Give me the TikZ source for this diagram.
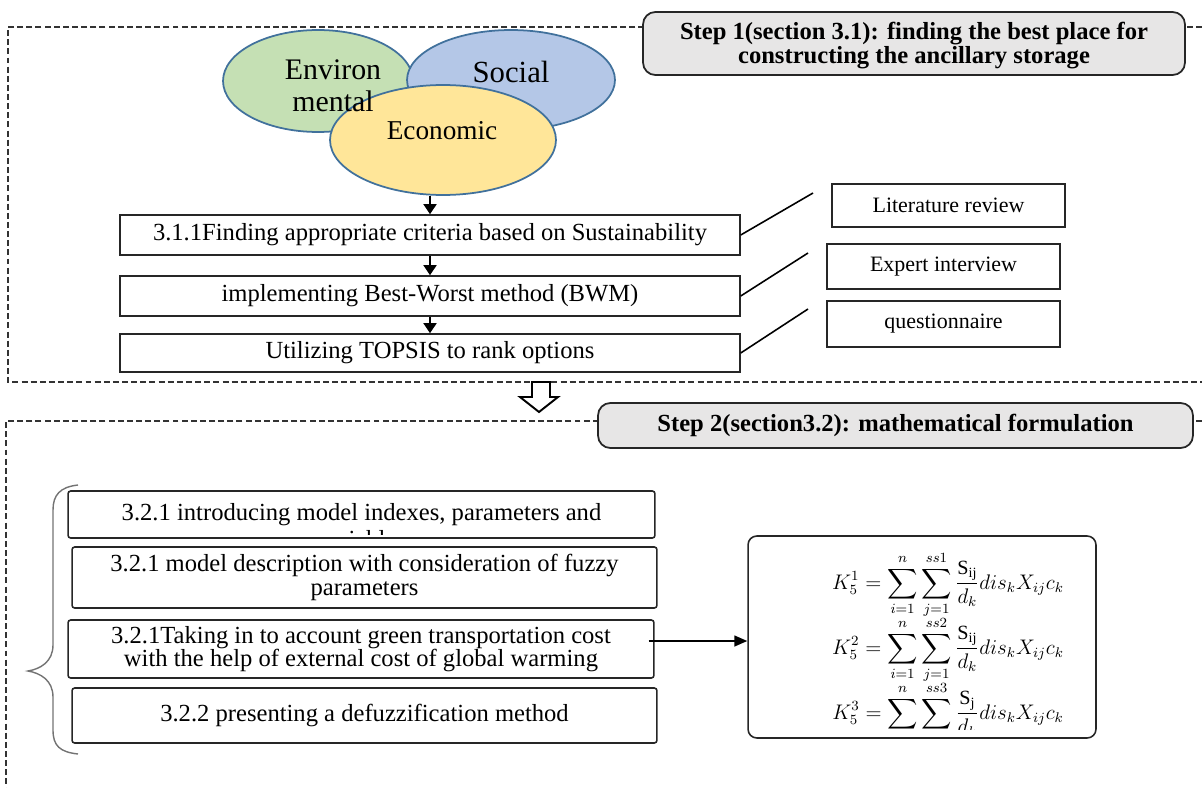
\documentclass[tikz,border=0pt]{standalone}
\usepackage{amsmath}
\usepackage{fontspec}
\setmainfont{Liberation Serif}
\usetikzlibrary{arrows.meta, shapes.geometric}
\definecolor{cgreen}{HTML}{C5E0B4}
\definecolor{cblue}{HTML}{B4C7E7}
\definecolor{cyellow}{HTML}{FFE699}
\definecolor{cedge}{HTML}{41719C}
\definecolor{cgrey}{HTML}{E7E6E6}
\tikzset{
  every picture/.style={line width=0.9pt},
  stepframe/.style={draw=black!80, line width=0.8pt, dash pattern=on 3.4pt off 1.8pt},
  stepbox/.style={draw=black!85, fill=cgrey, rounded corners=7pt, align=center, line width=1pt,
    font=\bfseries\fontsize{14}{13.5}\selectfont},
  venn/.style={ellipse, draw=cedge, fill=#1, line width=1pt},
  task/.style={draw=black!85, minimum width=12.4cm, align=center, font=\fontsize{14}{13.5}\selectfont},
  sub/.style={draw=black!85, rounded corners=1.5pt, align=center, font=\fontsize{14}{13.5}\selectfont},
  src/.style={draw=black!85, align=center, font=\fontsize{12.5}{13}\selectfont},
  arr/.style={-{Triangle[length=2mm, width=2.6mm]}, draw=black},
  formula/.style={font=\fontsize{11.5}{12}\selectfont},
}

\begin{document}
\begin{tikzpicture}[x=0.02cm, y=-0.02cm]
  \useasboundingbox (0,0) rectangle (1202,787);
  \clip (0,0) rectangle (1202,787);
  % dashed frames of the two steps
  \draw[stepframe] (1220,27) -- (8,27) -- (8,382) -- (1220,382);
  \draw[stepframe] (1220,421) -- (6,421) -- (6,800);
  \node[stepbox, minimum width=10.84cm, minimum height=1.26cm] (s1) at (914,43.5)
    {\rule{0pt}{0.42cm}Step 1(section 3.1): finding the best place for\\constructing the ancillary storage};
  % sustainability circles
  \node[venn=cgreen, minimum width=3.8cm, minimum height=2.04cm] (env) at (318,81) {};
  \node[venn=cblue, minimum width=4.16cm, minimum height=2cm] (soc) at (511,80) {};
  \node[venn=cyellow, minimum width=4.52cm, minimum height=2.2cm] (eco) at (443,140) {};
  \node[font=\fontsize{17}{18}\selectfont, align=center] (envt) at (333,86) {Environ\\mental};
  \node[font=\fontsize{17.5}{18}\selectfont] (soct) at (511,72) {Social};
  \node[font=\fontsize{15.5}{16}\selectfont] (ecot) at (442,131) {Economic};
  % step 1 tasks
  \node[task, minimum height=0.8cm] (t1) at (430,235) {3.1.1Finding appropriate criteria based on Sustainability};
  \node[task, minimum height=0.8cm] (t2) at (430,296) {implementing Best-Worst method (BWM)};
  \node[task, minimum height=0.76cm] (t3) at (430,353) {Utilizing TOPSIS to rank options};
  \draw[arr] (t1.north |- eco.south) -- (t1);
  \draw[arr] (t1) -- (t2);
  \draw[arr] (t2) -- (t3);
  % data sources
  \node[src, minimum width=4.66cm, minimum height=0.86cm] (lit) at (948.5,205.5) {Literature review};
  \node[src, minimum width=4.66cm, minimum height=0.9cm] (exp) at (943.5,266.5) {Expert interview};
  \node[src, minimum width=4.66cm, minimum height=0.92cm] (que) at (943.5,324) {questionnaire};
  \coordinate (l1) at (813,193);
  \coordinate (l2) at (808,253);
  \coordinate (l3) at (808,309);
  \draw (t1.east) -- (l1);
  \draw (t2.east) -- (l2);
  \draw (t3.east) -- (l3);
  % hollow arrow between the steps
  \draw[fill=white, line width=1.1pt] (532,382) -- (550,382) -- (550,397) -- (558,397) -- (539,412)
    -- (520,397) -- (532,397) -- cycle;
  \node[stepbox, minimum width=11.9cm, minimum height=0.9cm] (s2) at (895.5,425.5)
    {Step 2(section3.2): mathematical formulation};
  % brace
  \draw[black!55, line width=0.8pt] (78,485) .. controls (60,487) and (53,495) .. (53,510) -- (53,645)
    .. controls (53,662) and (40,669) .. (28,671) .. controls (40,673) and (53,680) .. (53,697)
    -- (53,730) .. controls (53,746) and (60,752) .. (78,754);
  % step 2 sub-sections
  \node[sub, minimum width=11.74cm, minimum height=0.94cm] (b1) at (361.5,514.5)
    {3.2.1 introducing model indexes, parameters and};
  \begin{scope}
    \clip (70,493) rectangle (654,534);
    \node[font=\fontsize{14}{14}\selectfont, anchor=base] (b1v) at (361.5,547) {variables};
  \end{scope}
  \node[sub, minimum width=11.7cm, minimum height=1.22cm] (b2) at (364.5,577.5)
    {3.2.1 model description with consideration of fuzzy\\parameters};
  \node[sub, minimum width=11.72cm, minimum height=1.16cm] (b3) at (361,649)
    {3.2.1Taking in to account green transportation cost\\with the help of external cost of global warming};
  \node[sub, minimum width=11.7cm, minimum height=1.1cm] (b4) at (364.5,715.5)
    {3.2.2 presenting a defuzzification method};
  \node[draw=black!85, rounded corners=5pt, minimum width=6.96cm, minimum height=4.04cm] (fbox) at (922,637) {};
  \draw[arr, -{Triangle[length=2.6mm, width=2.2mm]}] ([shift={(-6,-8)}]b3.east) coordinate (a0) -- (a0 -| fbox.west);
  % formulas
  \node[formula] (f1) at (948,585)
    {$\displaystyle K_5^1=\sum_{i=1}^{n}\sum_{j=1}^{ss1}\frac{\mathrm{S_{ij}}}{d_k}dis_kX_{ij}c_k$};
  \node[formula] (f2) at (948,650)
    {$\displaystyle K_5^2=\sum_{i=1}^{n}\sum_{j=1}^{ss2}\frac{\mathrm{S_{ij}}}{d_k}dis_kX_{ij}c_k$};
  \begin{scope}
    \clip (748,536) rectangle (1096,729);
    \node[formula] (f3) at (948,715)
      {$\displaystyle K_5^3=\sum_{i=1}^{n}\sum_{j=1}^{ss3}\frac{\mathrm{S_{j}}}{d_k}dis_kX_{ij}c_k$};
  \end{scope}
\end{tikzpicture}
\end{document}
